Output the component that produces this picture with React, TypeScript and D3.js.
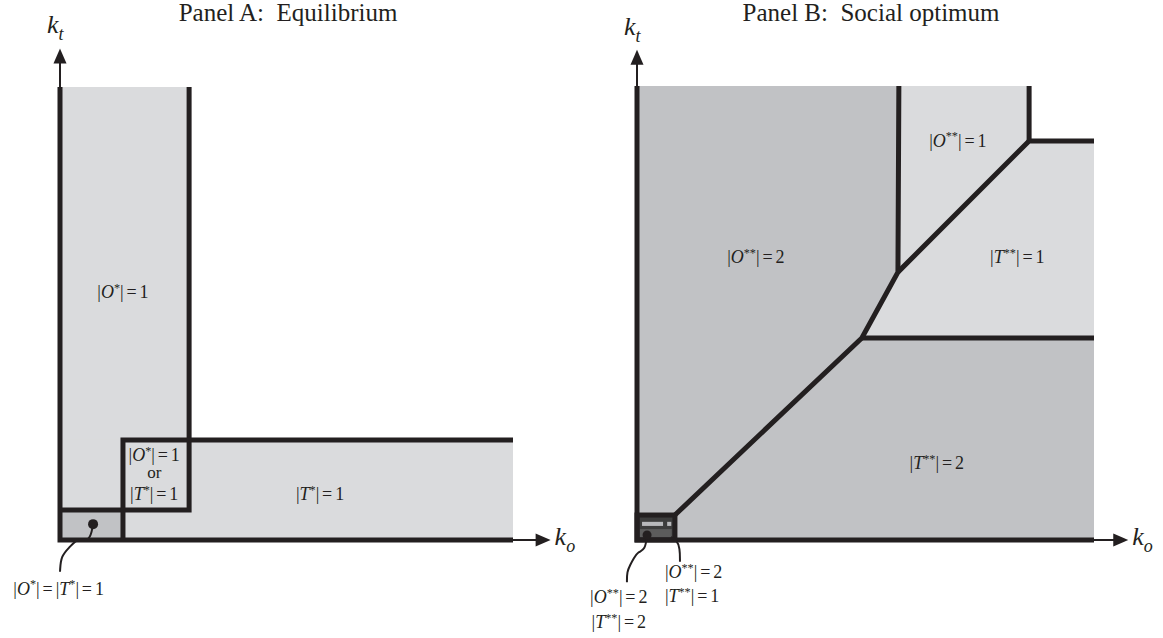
import React from 'react';
import * as d3 from 'd3';

const W = 1163;
const H = 638;
const INK = '#231f20';
const LIGHT = '#dadbdd';
const DARK = '#c1c2c5';
const SERIF = '"Liberation Serif", "Times New Roman", serif';

// ---------- Panel A: Equilibrium (arbitrary units 0..100) ----------
const aStripO = [0, 28.5, 0, 100]; // x0,x1,y0,y1
const aStripT = [0, 100, 0, 22.1];
const aCorner = [0, 13.9, 0, 6.6];
const aBorders = [
  [[0, 100], [0, 0], [100, 0]],
  [[28.5, 100], [28.5, 6.6], [0, 6.6]],
  [[13.9, 0], [13.9, 22.1], [100, 22.1]],
];
const aLabels = [
  { t: '|O*|=1', x: 13.9, y: 53.4, a: 'middle' },
  { t: '|O*|=1', x: 20.8, y: 17.4, a: 'middle' },
  { t: 'or', x: 20.8, y: 13.7, a: 'middle' },
  { t: '|T*|=1', x: 20.8, y: 8.8, a: 'middle' },
  { t: '|T*|=1', x: 57.4, y: 8.8, a: 'middle' },
  { t: '|O*|=|T*|=1', x: -0.3, y: -12.1, a: 'middle' },
];
const aDot = [7.3, 3.5];
const aLeader = [[7.3, 3.5], [6.6, -0.5], [4.0, 0.5], [2.2, -1.5], [0.2, -3.5], [0, -7.0]];
const aAxisEnd = [108.3, 108.5];

// ---------- Panel B: Social optimum ----------
const bSquare = [0, 100, 0, 100];
const bLightPoly = [[57.3, 100], [85.8, 100], [85.8, 87.9], [100, 87.9], [100, 44.5], [49.2, 44.5], [57.1, 59.0]];
const bWhite = [85.8, 100, 87.9, 100];
const bBorders = [
  [[0, 100], [0, 0], [100, 0]],
  [[57.3, 100], [57.1, 59.0], [49.2, 44.5], [8.3, 5.5]],
  [[57.1, 59.0], [85.8, 87.9], [100, 87.9]],
  [[85.8, 87.9], [85.8, 100]],
  [[49.2, 44.5], [100, 44.5]],
];
const bBox = [0, 8.3, 0, 5.5];
const bBoxBar = [1.1, 5.7, 3.1, 4.0];
const bBoxSquare = [6.6, 7.5, 3.1, 4.0];
const bBoxLower = [0.6, 7.6, 0.6, 2.4];
const bLabels = [
  { t: '|O**|=2', x: 26.0, y: 61.0, a: 'middle' },
  { t: '|O**|=1', x: 70.2, y: 86.6, a: 'middle' },
  { t: '|T**|=1', x: 83.2, y: 61.0, a: 'middle' },
  { t: '|T**|=2', x: 65.6, y: 15.6, a: 'middle' },
  { t: '|O**|=2', x: 6.1, y: -8.4, a: 'start' },
  { t: '|T**|=1', x: 6.1, y: -13.7, a: 'start' },
  { t: '|O**|=2', x: -4.0, y: -13.9, a: 'middle' },
  { t: '|T**|=2', x: -4.0, y: -19.4, a: 'middle' },
];
const bDot = [2.2, 1.1];
const bLeaderL = [[2.2, 1.1], [1.8, -2.2], [0.2, -2.6], [-0.7, -4.0], [-1.5, -5.5], [-2.2, -7.0], [-2.2, -9.3]];
const bLeaderR = [[7.4, 0.6], [8.7, 0], [9.4, -1.8], [9.4, -4.8]];
const bAxisEnd = [107.5, 108.0];

const titles = ['Panel A:  Equilibrium', 'Panel B:  Social optimum'];

function mathText(s: string, fs: number) {
  const out: any[] = [];
  let shifted = false;
  let i = 0;
  const up = fs * 0.36;
  while (i < s.length) {
    const c = s[i];
    if (c === '*') {
      let j = i;
      while (s[j] === '*') j++;
      out.push(
        <tspan key={i} dy={-up} fontSize={fs * 0.68}>
          {s.slice(i, j)}
        </tspan>
      );
      shifted = true;
      i = j;
      continue;
    }
    const dy = shifted ? up : 0;
    shifted = false;
    if (c === 'O' || c === 'T') {
      out.push(<tspan key={i} dy={dy} fontStyle="italic">{c}</tspan>);
    } else if (c === '=') {
      out.push(<tspan key={i} dy={dy} dx={fs * 0.16}>=</tspan>);
    } else if (i > 0 && s[i - 1] === '=') {
      out.push(<tspan key={i} dy={dy} dx={fs * 0.16}>{c}</tspan>);
    } else {
      out.push(<tspan key={i} dy={dy}>{c}</tspan>);
    }
    i++;
  }
  return out;
}

function AxisArrows({ x, y, end }: any) {
  const ox = x(0), oy = y(0);
  const tx = x(end[0]), ty = y(end[1]);
  return (
    <g>
      <line x1={ox} y1={oy} x2={tx - 12} y2={oy} stroke={INK} strokeWidth={2} />
      <path d={`M${tx},${oy} L${tx - 15},${oy - 6.5} L${tx - 15},${oy + 6.5} Z`} fill={INK} />
      <line x1={ox} y1={oy} x2={ox} y2={ty + 12} stroke={INK} strokeWidth={2} />
      <path d={`M${ox},${ty} L${ox - 6.5},${ty + 15} L${ox + 6.5},${ty + 15} Z`} fill={INK} />
      <text x={ox - 13} y={ty - 15} fontFamily={SERIF} fontStyle="italic" fontSize={26} fill={INK}>
        k<tspan dy={7} fontSize={18}>t</tspan>
      </text>
      <text x={tx + 4} y={oy + 5} fontFamily={SERIF} fontStyle="italic" fontSize={26} fill={INK}>
        k<tspan dy={7} fontSize={18}>o</tspan>
      </text>
    </g>
  );
}

function rectOf(r: number[], x: any, y: any, props: any) {
  return (
    <rect
      x={x(r[0])}
      y={y(r[3])}
      width={x(r[1]) - x(r[0])}
      height={y(r[2]) - y(r[3])}
      {...props}
    />
  );
}

export default function App() {
  const xA = d3.scaleLinear().domain([0, 100]).range([60, 513]);
  const yA = d3.scaleLinear().domain([0, 100]).range([540, 87]);
  const xB = d3.scaleLinear().domain([0, 100]).range([637, 1094]);
  const yB = d3.scaleLinear().domain([0, 100]).range([540, 86]);

  const lineA = d3.line<number[]>().x((d) => xA(d[0])).y((d) => yA(d[1]));
  const lineB = d3.line<number[]>().x((d) => xB(d[0])).y((d) => yB(d[1]));
  const curveA = d3.line<number[]>().x((d) => xA(d[0])).y((d) => yA(d[1])).curve(d3.curveBasis);
  const curveB = d3.line<number[]>().x((d) => xB(d[0])).y((d) => yB(d[1])).curve(d3.curveBasis);

  const fs = 18;

  return (
    <div style={{ position: 'absolute', left: 0, top: 0 }}>
      <svg width={W} height={H} style={{ display: 'block', background: '#fff' }}>
        {/* Titles */}
        <text x={288} y={21} textAnchor="middle" fontFamily={SERIF} fontSize={25} fill={INK} style={{ whiteSpace: 'pre' }}>
          {titles[0]}
        </text>
        <text x={871} y={21} textAnchor="middle" fontFamily={SERIF} fontSize={25} fill={INK} style={{ whiteSpace: 'pre' }}>
          {titles[1]}
        </text>

        {/* Panel A */}
        <g>
          {rectOf(aStripO, xA, yA, { fill: LIGHT })}
          {rectOf(aStripT, xA, yA, { fill: LIGHT })}
          {rectOf(aCorner, xA, yA, { fill: DARK })}
          <AxisArrows x={xA} y={yA} end={aAxisEnd} />
          {aBorders.map((b, i) => (
            <path key={i} d={lineA(b as any) || ''} fill="none" stroke={INK} strokeWidth={5} strokeLinejoin="miter" />
          ))}
          {aLabels.map((l, i) => (
            <text key={i} x={xA(l.x)} y={yA(l.y)} textAnchor={l.a as any} fontFamily={SERIF} fontSize={l.t === 'or' ? 17 : fs} fill={INK}>
              {mathText(l.t, fs)}
            </text>
          ))}
          <path d={curveA(aLeader as any) || ''} fill="none" stroke={INK} strokeWidth={2} />
          <circle cx={xA(aDot[0])} cy={yA(aDot[1])} r={5} fill={INK} />
        </g>

        {/* Panel B */}
        <g>
          {rectOf(bSquare, xB, yB, { fill: DARK })}
          <path d={(lineB(bLightPoly as any) || '') + 'Z'} fill={LIGHT} />
          {rectOf(bWhite, xB, yB, { fill: '#fff' })}
          <AxisArrows x={xB} y={yB} end={bAxisEnd} />
          {rectOf(bBox, xB, yB, { fill: '#3d3d3d' })}
          {rectOf(bBoxLower, xB, yB, { fill: '#5c5c5c' })}
          {rectOf(bBoxBar, xB, yB, { fill: '#b8b9bc' })}
          {rectOf(bBoxSquare, xB, yB, { fill: '#b8b9bc' })}
          {bBorders.map((b, i) => (
            <path key={i} d={lineB(b as any) || ''} fill="none" stroke={INK} strokeWidth={5} strokeLinejoin="miter" />
          ))}
          {rectOf(bBox, xB, yB, { fill: 'none', stroke: INK, strokeWidth: 5 })}
          {bLabels.map((l, i) => (
            <text key={i} x={xB(l.x)} y={yB(l.y)} textAnchor={l.a as any} fontFamily={SERIF} fontSize={fs} fill={INK}>
              {mathText(l.t, fs)}
            </text>
          ))}
          <path d={curveB(bLeaderL as any) || ''} fill="none" stroke={INK} strokeWidth={2} />
          <path d={curveB(bLeaderR as any) || ''} fill="none" stroke={INK} strokeWidth={2} />
          <circle cx={xB(bDot[0])} cy={yB(bDot[1])} r={4.5} fill={INK} />
        </g>
      </svg>
    </div>
  );
}
